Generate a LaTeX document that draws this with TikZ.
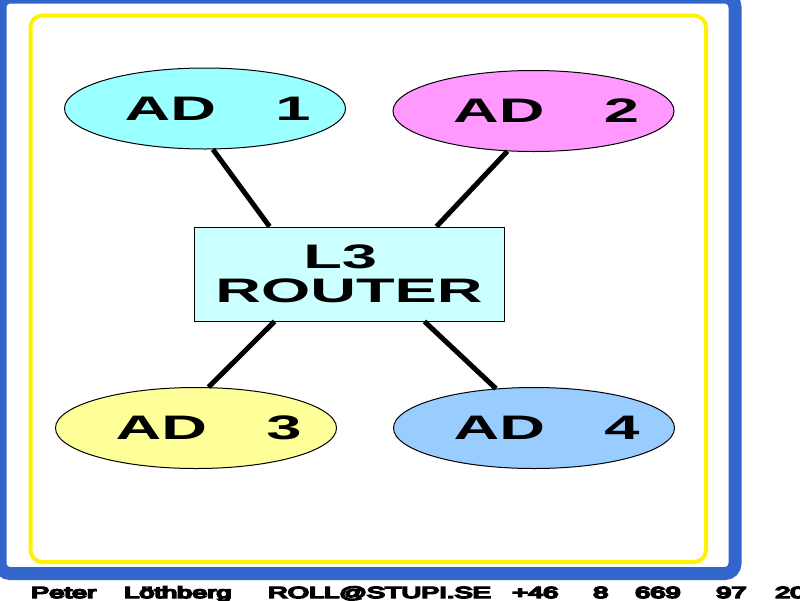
\documentclass[tikz,border=0pt]{standalone}
\usepackage{fontspec}
\usepackage{graphicx}
\setmainfont{Liberation Sans}
\newfontfamily\footfont{Liberation Sans}[FakeBold=9]
\usetikzlibrary{shapes.geometric}

\definecolor{frameblue}{RGB}{51,102,204}
\definecolor{adcyan}{RGB}{153,255,255}
\definecolor{admagenta}{RGB}{255,153,255}
\definecolor{adyellow}{RGB}{255,255,153}
\definecolor{adblue}{RGB}{153,204,255}
\definecolor{routercyan}{RGB}{204,255,255}

\newcommand{\widetxt}[1]{\scalebox{1.86}[1]{#1}}
\newcommand{\adname}[1]{\makebox[0pt]{\widetxt{\hspace*{0.4em}AD\hspace{0.94em}#1}}}
\newcommand{\foottxt}[1]{\scalebox{1.7}[1]{#1}}

\begin{document}
\begin{tikzpicture}[x=1pt, y=-1pt,
    adzone/.style={draw, ellipse, line width=1pt, inner sep=0pt,
        minimum width=281pt, minimum height=81pt,
        font=\bfseries\fontsize{34}{34}\selectfont},
    link/.style={line width=5pt},
    footword/.style={anchor=base west, inner sep=0pt,
        font=\footfont\fontsize{16}{16}\selectfont}]
    \useasboundingbox (0,0) rectangle (800,600);
    \draw[frameblue, line width=13pt, rounded corners=10pt] (0,-3) rectangle (735,573.5);
    \draw[yellow, line width=4pt, rounded corners=12pt] (30.5,15.5) rectangle (706,562);

    \node[adzone, fill=adcyan]    (ad 1)   at (205,108.5) {\adname{1}};
    \node[adzone, fill=admagenta] (ad 2)   at (533.5,111) {\adname{2}};
    \node[adzone, fill=adyellow]  (ad 3)   at (196,428)   {\adname{3}};
    \node[adzone, fill=adblue]    (ad 4)   at (534,428)   {\adname{4}};
    \node[draw, line width=1pt, fill=routercyan, inner sep=0pt,
          minimum width=310pt, minimum height=94pt, align=center,
          font=\bfseries\fontsize{34}{34}\selectfont]
                                  (router) at (349,274)   {\widetxt{L3\ }\\\widetxt{ROUTER}};

    \draw[link] (ad 1.-79)  -- ([xshift=76pt]router.north west);
    \draw[link] (ad 2.-123) -- ([xshift=243pt]router.north west);
    \draw[link] (ad 3.73)   -- ([xshift=81pt]router.south west);
    \draw[link] (ad 4.134)  -- ([xshift=231pt]router.south west);

    \node[footword] (first name) at (31,598)  {\foottxt{Peter}};
    \node[footword] (last name)  at (124,598) {\foottxt{Löthberg}};
    \node[footword] (mail)       at (268,598) {\foottxt{ROLL@STUPI.SE}};
    \node[footword] (country)    at (512,598) {\foottxt{+46}};
    \node[footword] (area)       at (593,598) {\foottxt{8}};
    \node[footword] (number 1)   at (635,598) {\foottxt{669}};
    \node[footword] (number 2)   at (716,598) {\foottxt{97}};
    \node[footword] (number 3)   at (775,598) {\foottxt{20}};
\end{tikzpicture}
\end{document}
